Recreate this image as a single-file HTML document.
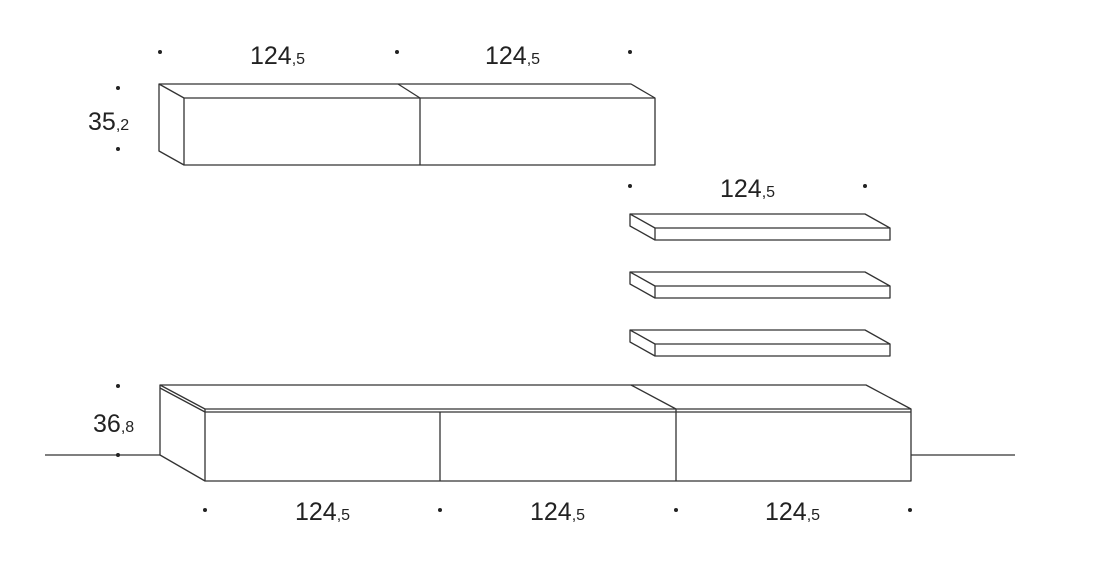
<!DOCTYPE html>
<html><head><meta charset="utf-8"><style>
html,body{margin:0;padding:0;background:#fff;}
svg{display:block}
text{font-family:"Liberation Sans",sans-serif;fill:#222;}
</style></head><body>
<svg width="1105" height="568" viewBox="0 0 1105 568" xmlns="http://www.w3.org/2000/svg">
<g fill="none" stroke="#333" stroke-width="1.3" stroke-linejoin="round">
<polygon points="159,84 631,84 655,98 655,165 184,165 159,151"/>
<line x1="159" y1="84" x2="184" y2="98"/>
<line x1="184" y1="98" x2="655" y2="98"/>
<line x1="184" y1="98" x2="184" y2="165"/>
<line x1="398" y1="84" x2="420" y2="98"/>
<line x1="420" y1="98" x2="420" y2="165"/>
<g id="sh">
<polygon points="630,214 865,214 890,228 890,240 655,240 630,226"/>
<line x1="630" y1="214" x2="655" y2="228"/>
<line x1="655" y1="228" x2="890" y2="228"/>
<line x1="655" y1="228" x2="655" y2="240"/>
</g>
<use href="#sh" y="58"/>
<use href="#sh" y="116"/>
<polygon points="160,385 866,385 911,409 911,481 205,481 160,455"/>
<line x1="160" y1="385" x2="205" y2="409"/>
<line x1="160" y1="388" x2="205" y2="412"/>
<line x1="205" y1="409" x2="911" y2="409"/>
<line x1="205" y1="412" x2="911" y2="412"/>
<line x1="205" y1="409" x2="205" y2="481"/>
<line x1="440" y1="412" x2="440" y2="481"/>
<line x1="631" y1="385" x2="676" y2="409"/>
<line x1="676" y1="409" x2="676" y2="481"/>
<line x1="45" y1="455" x2="160" y2="455"/>
<line x1="911" y1="455" x2="1015" y2="455"/>
</g>
<g fill="#222">
<circle cx="160" cy="52" r="2"/><circle cx="397" cy="52" r="2"/><circle cx="630" cy="52" r="2"/>
<circle cx="630" cy="186" r="2"/><circle cx="865" cy="186" r="2"/>
<circle cx="118" cy="88" r="2"/><circle cx="118" cy="149" r="2"/>
<circle cx="118" cy="386" r="2"/><circle cx="118" cy="455" r="2"/>
<circle cx="205" cy="510" r="2"/><circle cx="440" cy="510" r="2"/><circle cx="676" cy="510" r="2"/><circle cx="910" cy="510" r="2"/>
</g>
<g font-size="25">
<text x="250" y="64">124<tspan font-size="16">,5</tspan></text>
<text x="485" y="64">124<tspan font-size="16">,5</tspan></text>
<text x="720" y="197">124<tspan font-size="16">,5</tspan></text>
<text x="88" y="130">35<tspan font-size="16">,2</tspan></text>
<text x="93" y="432">36<tspan font-size="16">,8</tspan></text>
<text x="295" y="520">124<tspan font-size="16">,5</tspan></text>
<text x="530" y="520">124<tspan font-size="16">,5</tspan></text>
<text x="765" y="520">124<tspan font-size="16">,5</tspan></text>
</g>
</svg>
</body></html>
